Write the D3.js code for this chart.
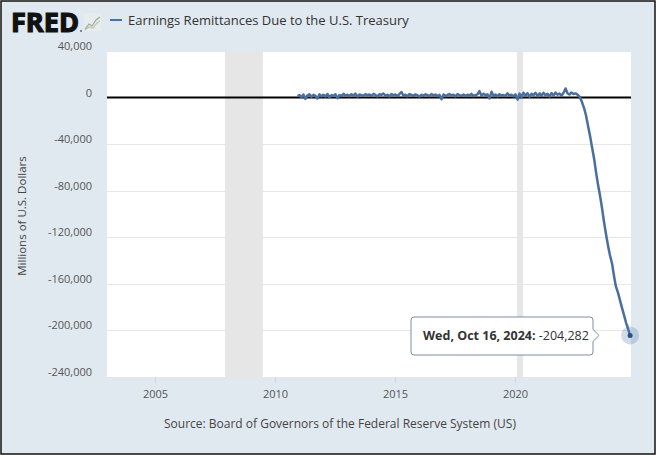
<!DOCTYPE html>
<html>
<head>
  <meta charset="utf-8">
  <title>Earnings Remittances Due to the U.S. Treasury</title>
  <script type="text/javascript" src="https://d3js.org/d3.v7.min.js"></script>
  <style type="text/css">
  body { margin: 0; background: #fff; }
  text { font-family: "Open Sans", sans-serif; }
  </style>
</head>
<body>
  <script type="text/javascript">

    // Monthly readings of the flat part, starting Dec 2010 (millions of dollars)
    var flatStart = "2010-12-08";
    var flatValues = [
      1500,
      2100, 400, 2600, -1200, 1800, 2900, 700, 2300, 1400, -800, 2700, 1100,
      2400, 900, 3100, 300, 2000, 1600, 2800, -600, 2200, 1300, 3300, 1700,
      2500, 1200, 2900, 1800, 3400, 900, 2600, 2100, 1500, 3000, 1900, 2700,
      1400, 3200, 2200, 1000, 2800, 2300, 3500, 1600, 2400, 900, 3100, 2000,
      2600, 1300, 2900, 4800, 1700, 2500, 1100, 3000, 2200, 1600, 2700, 1900,
      900, 2400, 1500, 2800, 2000, 1200, 3100, 1800, 2600, 1100, 2300, -1500,
      2700, 1400, 2200, 3000, 1700, 2500, 1000, 2900, 2100, 1500, 2600, 1300,
      2400, 1800, 3200, 1200, 2100, 2700, 5500, 1500, 3300, 2000, 2800, -800,
      5000, 1400, 2600, 1000, 2900, 1800, 2200, 1300, 3600, 1700, 2500, 1100,
      2700, -1800, 3400, 600, 4200, 1500, 3800, 800, 3200, 2100, 4000, 1200,
      3600, 1500, 4100, 2000, 3300, 900, 3900, 1800, 4300, 2400, 3500, 1400,
      4200, 7800, 3700, 2600, 4400, 3100, 3600, 2500
    ];

    // Readings of the fall into a deferred asset
    var dropDates = [
      "2022-09-07", "2022-09-28", "2022-10-19", "2022-11-16", "2022-12-14",
      "2023-01-18", "2023-02-15", "2023-03-15", "2023-04-19", "2023-05-17",
      "2023-06-14", "2023-07-19", "2023-08-16", "2023-09-13", "2023-10-18",
      "2023-11-15", "2023-12-13", "2024-01-17", "2024-02-14", "2024-03-13",
      "2024-04-17", "2024-05-15", "2024-06-12", "2024-07-17", "2024-08-14",
      "2024-09-18", "2024-10-16"
    ];
    var dropValues = [
      800, -1500, -4500, -9000, -15000,
      -25000, -33000, -42000, -53000, -64000,
      -74000, -85000, -95000, -106000, -118000,
      -127000, -135000, -143000, -153000, -162000,
      -168000, -174000, -180000, -187000, -193000,
      -199000, -204282
    ];

    // Recession bars
    var recessionStarts = ["2007-12-01", "2020-02-01"];
    var recessionEnds = ["2009-06-30", "2020-04-30"];

    var yTicks = [40000, 0, -40000, -80000, -120000, -160000, -200000, -240000];
    var xTickYears = [2005, 2010, 2015, 2020];

    var parseDate = d3.timeParse("%Y-%m-%d");
    // FRED writes negatives with a plain hyphen
    var fmt = function(v) { return d3.format(",")(v).replace("\u2212", "-"); };

    // Build one series from the arrays
    var series = flatValues.map(function(v, i) {
      return { date: d3.timeMonth.offset(parseDate(flatStart), i), value: v };
    });
    dropDates.forEach(function(d, i) {
      series.push({ date: parseDate(d), value: dropValues[i] });
    });
    var last = series[series.length - 1];

    var W = 656, H = 455;
    var plot = { left: 107, right: 631, top: 51, bottom: 377 };

    var svg = d3.select("body").append("svg")
      .attr("width", W)
      .attr("height", H);

    // Background and frame
    svg.append("rect")
      .attr("x", 1).attr("y", 1)
      .attr("width", W - 2).attr("height", H - 2)
      .attr("fill", "#e1e9f0")
      .attr("stroke", "#111")
      .attr("stroke-width", 1.5);

    var x = d3.scaleTime()
      .domain([parseDate("2003-01-01"), parseDate("2024-10-30")])
      .range([plot.left, plot.right]);

    var y = d3.scaleLinear()
      .domain([-240000, 40000])
      .range([plot.bottom, plot.top]);

    // Plot area
    svg.append("rect")
      .attr("x", plot.left).attr("y", plot.top)
      .attr("width", plot.right - plot.left)
      .attr("height", plot.bottom - plot.top)
      .attr("fill", "#fff");

    // Recession shading
    svg.selectAll(".recession")
      .data(recessionStarts)
      .enter().append("rect")
      .attr("class", "recession")
      .attr("x", function(d) { return x(parseDate(d)); })
      .attr("width", function(d, i) { return x(parseDate(recessionEnds[i])) - x(parseDate(d)); })
      .attr("y", plot.top)
      .attr("height", plot.bottom - plot.top)
      .attr("fill", "#e6e6e6");

    // Horizontal grid
    svg.append("g")
      .selectAll("line")
      .data(yTicks.filter(function(d) { return d !== 0; }))
      .enter().append("line")
      .attr("x1", plot.left).attr("x2", plot.right)
      .attr("y1", function(d) { return Math.round(y(d)) + 0.5; })
      .attr("y2", function(d) { return Math.round(y(d)) + 0.5; })
      .attr("stroke", "#e6e6e6");

    // Y axis labels
    var yAxis = svg.append("g")
      .attr("transform", "translate(" + (plot.left - 15) + ",-5)")
      .call(d3.axisLeft(y)
        .tickValues(yTicks)
        .tickSize(0)
        .tickPadding(0)
        .tickFormat(fmt));
    yAxis.select(".domain").remove();
    yAxis.selectAll("text")
      .attr("font-family", "'Open Sans', sans-serif")
      .attr("font-size", "11px")
      .attr("fill", "#555");

    // X axis
    var xAxis = svg.append("g")
      .attr("transform", "translate(0," + plot.bottom + ")")
      .call(d3.axisBottom(x)
        .tickValues(xTickYears.map(function(yr) { return new Date(yr, 0, 1); }))
        .tickSize(6)
        .tickPadding(7)
        .tickFormat(d3.timeFormat("%Y")));
    xAxis.select(".domain").remove();
    xAxis.selectAll(".tick line").attr("stroke", "#ccd6eb");
    xAxis.selectAll("text")
      .attr("font-family", "'Open Sans', sans-serif")
      .attr("font-size", "11px")
      .attr("fill", "#555");

    // Zero line
    svg.append("line")
      .attr("x1", plot.left).attr("x2", plot.right)
      .attr("y1", y(0)).attr("y2", y(0))
      .attr("stroke", "#000")
      .attr("stroke-width", 2);

    // Data line
    var line = d3.line()
      .x(function(d) { return x(d.date); })
      .y(function(d) { return y(d.value); });

    svg.append("path")
      .datum(series)
      .attr("fill", "none")
      .attr("stroke", "#4a6f9e")
      .attr("stroke-width", 2.5)
      .attr("stroke-linejoin", "round")
      .attr("d", line);

    // Hover marker on the last point
    svg.append("circle")
      .attr("cx", x(last.date)).attr("cy", y(last.value))
      .attr("r", 9)
      .attr("fill", "#4572a7")
      .attr("fill-opacity", 0.25);
    svg.append("circle")
      .attr("cx", x(last.date)).attr("cy", y(last.value))
      .attr("r", 2.5)
      .attr("fill", "#2f4f7a");

    // Tooltip
    var tx = 411, ty = 317, tw = 182, th = 38, r = 3;
    var ax = x(last.date) - 31, ay = y(last.value);
    var tip = svg.append("g");
    tip.append("path")
      .attr("d",
        "M" + (tx + r) + "," + ty +
        "H" + (tx + tw - r) +
        "Q" + (tx + tw) + "," + ty + " " + (tx + tw) + "," + (ty + r) +
        "V" + (ay - 6) +
        "L" + ax + "," + ay +
        "L" + (tx + tw) + "," + (ay + 6) +
        "V" + (ty + th - r) +
        "Q" + (tx + tw) + "," + (ty + th) + " " + (tx + tw - r) + "," + (ty + th) +
        "H" + (tx + r) +
        "Q" + tx + "," + (ty + th) + " " + tx + "," + (ty + th - r) +
        "V" + (ty + r) +
        "Q" + tx + "," + ty + " " + (tx + r) + "," + ty + "Z")
      .attr("fill", "#fff")
      .attr("fill-opacity", 0.95)
      .attr("stroke", "#7d8ea3")
      .attr("stroke-width", 1);
    var tipText = tip.append("text")
      .attr("x", tx + 12)
      .attr("y", ty + 23)
      .attr("font-size", "12.5px")
      .attr("fill", "#333");
    tipText.append("tspan")
      .attr("font-weight", "bold")
      .text(d3.timeFormat("%a, %b %-d, %Y")(last.date) + ":");
    tipText.append("tspan")
      .text(" " + fmt(last.value));

    // Y axis title
    svg.append("text")
      .attr("transform", "translate(26," + ((plot.top + plot.bottom) / 2 + 2) + ") rotate(-90)")
      .attr("text-anchor", "middle")
      .attr("font-size", "11.5px")
      .attr("fill", "#444")
      .text("Millions of U.S. Dollars");

    // Source
    svg.append("text")
      .attr("x", 340)
      .attr("y", 428)
      .attr("text-anchor", "middle")
      .attr("font-size", "12px")
      .attr("fill", "#444")
      .text("Source: Board of Governors of the Federal Reserve System (US)");

    // FRED logo and title
    svg.append("text")
      .attr("x", 11)
      .attr("y", 32)
      .attr("font-family", "'DejaVu Sans', sans-serif")
      .attr("font-weight", "bold")
      .attr("font-size", "26px")
      .attr("textLength", 68)
      .attr("lengthAdjust", "spacingAndGlyphs")
      .attr("fill", "#111")
      .attr("stroke", "#111")
      .attr("stroke-width", 1.2)
      .text("FRED");
    svg.append("circle")
      .attr("cx", 81).attr("cy", 31).attr("r", 1)
      .attr("fill", "#666");
    var icon = svg.append("g").attr("transform", "translate(84,13)");
    icon.append("rect")
      .attr("width", 17).attr("height", 18)
      .attr("fill", "#e8ecef");
    icon.append("path")
      .attr("d", "M1,16 L5,11 L8,13 L12,7 L16,4")
      .attr("fill", "none").attr("stroke", "#9aa8a0").attr("stroke-width", 1.2);
    icon.append("path")
      .attr("d", "M1,17 L5,14 L9,15 L13,10 L16,8")
      .attr("fill", "none").attr("stroke", "#b7c9a0").attr("stroke-width", 1.2);

    svg.append("line")
      .attr("x1", 110).attr("x2", 122)
      .attr("y1", 20).attr("y2", 20)
      .attr("stroke", "#4572a7")
      .attr("stroke-width", 2);
    svg.append("text")
      .attr("x", 128)
      .attr("y", 25)
      .attr("font-size", "13px")
      .attr("fill", "#333")
      .text("Earnings Remittances Due to the U.S. Treasury");

  </script>
</body>
</html>
